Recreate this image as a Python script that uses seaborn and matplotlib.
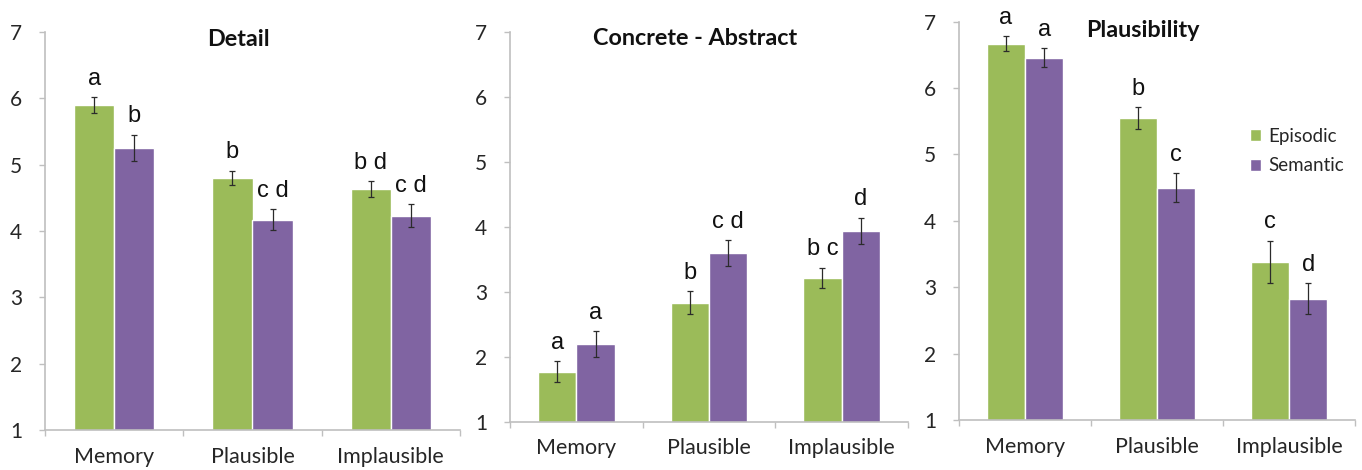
import matplotlib
matplotlib.use("Agg")
import matplotlib.pyplot as plt
import seaborn as sns
import pandas as pd

# ---------------- data ----------------
categories = ["Memory", "Plausible", "Implausible"]
groups = ["Episodic", "Semantic"]

titles = ["Detail", "Concrete - Abstract", "Plausibility"]

detail_episodic = [5.90, 4.80, 4.63]
detail_episodic_se = [0.12, 0.11, 0.12]
detail_semantic = [5.25, 4.17, 4.23]
detail_semantic_se = [0.20, 0.16, 0.17]
detail_letters_episodic = ["a", "b", "b d"]
detail_letters_semantic = ["b", "c d", "c d"]

concrete_episodic = [1.77, 2.83, 3.21]
concrete_episodic_se = [0.16, 0.18, 0.16]
concrete_semantic = [2.19, 3.59, 3.94]
concrete_semantic_se = [0.20, 0.20, 0.20]
concrete_letters_episodic = ["a", "b", "b c"]
concrete_letters_semantic = ["a", "c d", "d"]

plaus_episodic = [6.67, 5.55, 3.38]
plaus_episodic_se = [0.11, 0.16, 0.32]
plaus_semantic = [6.46, 4.50, 2.83]
plaus_semantic_se = [0.14, 0.22, 0.23]
plaus_letters_episodic = ["a", "b", "c"]
plaus_letters_semantic = ["a", "c", "d"]

yticks = [1, 2, 3, 4, 5, 6, 7]

panels = [
    (detail_episodic, detail_semantic, detail_episodic_se, detail_semantic_se,
     detail_letters_episodic, detail_letters_semantic),
    (concrete_episodic, concrete_semantic, concrete_episodic_se, concrete_semantic_se,
     concrete_letters_episodic, concrete_letters_semantic),
    (plaus_episodic, plaus_semantic, plaus_episodic_se, plaus_semantic_se,
     plaus_letters_episodic, plaus_letters_semantic),
]

# ---------------- style ----------------
sns.set_theme(style="white")
plt.rcParams["font.family"] = ["Lato", "DejaVu Sans"]

GREEN = "#9BBB59"
PURPLE = "#8064A2"
AXIS_C = "#BFBFBF"
TEXT_C = "#262626"

fig = plt.figure(figsize=(13.62, 4.70), dpi=100)
W, H = 1362.0, 470.0
# axes boxes in pixels: (left, right, y for value 7, y for value 1)
boxes = [(45, 460, 32, 430), (510, 908, 31.7, 421.7), (959, 1355, 21.7, 420)]

for i, (box, pdata, title) in enumerate(zip(boxes, panels, titles)):
    l, r, t, b = box
    ax = fig.add_axes([l / W, 1 - b / H, (r - l) / W, (b - t) / H])
    ep, sem, ep_se, sem_se, lab_ep, lab_sem = pdata
    df = pd.DataFrame({
        "condition": categories * 2,
        "memory": [groups[0]] * 3 + [groups[1]] * 3,
        "rating": list(ep) + list(sem),
    })
    sns.barplot(data=df, x="condition", y="rating", hue="memory",
                order=categories, hue_order=groups,
                palette=[GREEN, PURPLE], width=0.58, gap=0,
                errorbar=None, saturation=1, ax=ax, legend=(i == 2))

    for container, ses, labs in zip(ax.containers, [ep_se, sem_se], [lab_ep, lab_sem]):
        for bar, s, lab in zip(container, ses, labs):
            x = bar.get_x() + bar.get_width() / 2
            y = bar.get_height()
            ax.errorbar(x, y, yerr=s, color="#2b2b2b", elinewidth=0.9,
                        capsize=2, capthick=0.9, fmt="none", zorder=5)
            ax.annotate(lab, (x, y + s), xytext=(0, 9), textcoords="offset points",
                        ha="center", va="baseline", fontsize=17,
                        family=["Liberation Sans", "DejaVu Sans"], color="#111111",
                        annotation_clip=False)

    ax.set_ylim(1, 7)
    ax.set_xlim(-0.5, 2.5)
    ax.set_yticks(yticks)
    ax.set_xlabel("")
    ax.set_ylabel("")
    ax.set_xticks([-0.5, 0.5, 1.5, 2.5], minor=True)
    ax.tick_params(axis="x", which="major", length=0, pad=12, labelsize=15.5,
                   labelcolor=TEXT_C)
    ax.tick_params(axis="x", which="minor", length=4.5, width=1, color=AXIS_C,
                   direction="out", bottom=True)
    ax.tick_params(axis="y", length=4.5, width=1, color=AXIS_C, direction="out",
                   pad=12, labelsize=15, labelcolor=TEXT_C, left=True)
    for side in ["top", "right"]:
        ax.spines[side].set_visible(False)
    for side in ["left", "bottom"]:
        ax.spines[side].set_color(AXIS_C)
        ax.spines[side].set_linewidth(1.2)

    ax.text(0.465, 0.982 if i < 2 else 0.979, title, transform=ax.transAxes,
            ha="center", va="center", fontsize=16.8, fontweight="bold", color="#111111")

    if i == 2:
        sns.move_legend(ax, loc="center left", bbox_to_anchor=(0.735, 0.675),
                        frameon=False, title=None, fontsize=13.5,
                        handlelength=0.6, handleheight=0.6, handletextpad=0.35,
                        labelspacing=0.65, borderaxespad=0, borderpad=0)
        for txt in ax.get_legend().get_texts():
            txt.set_color(TEXT_C)

fig.savefig("out.png", dpi=100)
